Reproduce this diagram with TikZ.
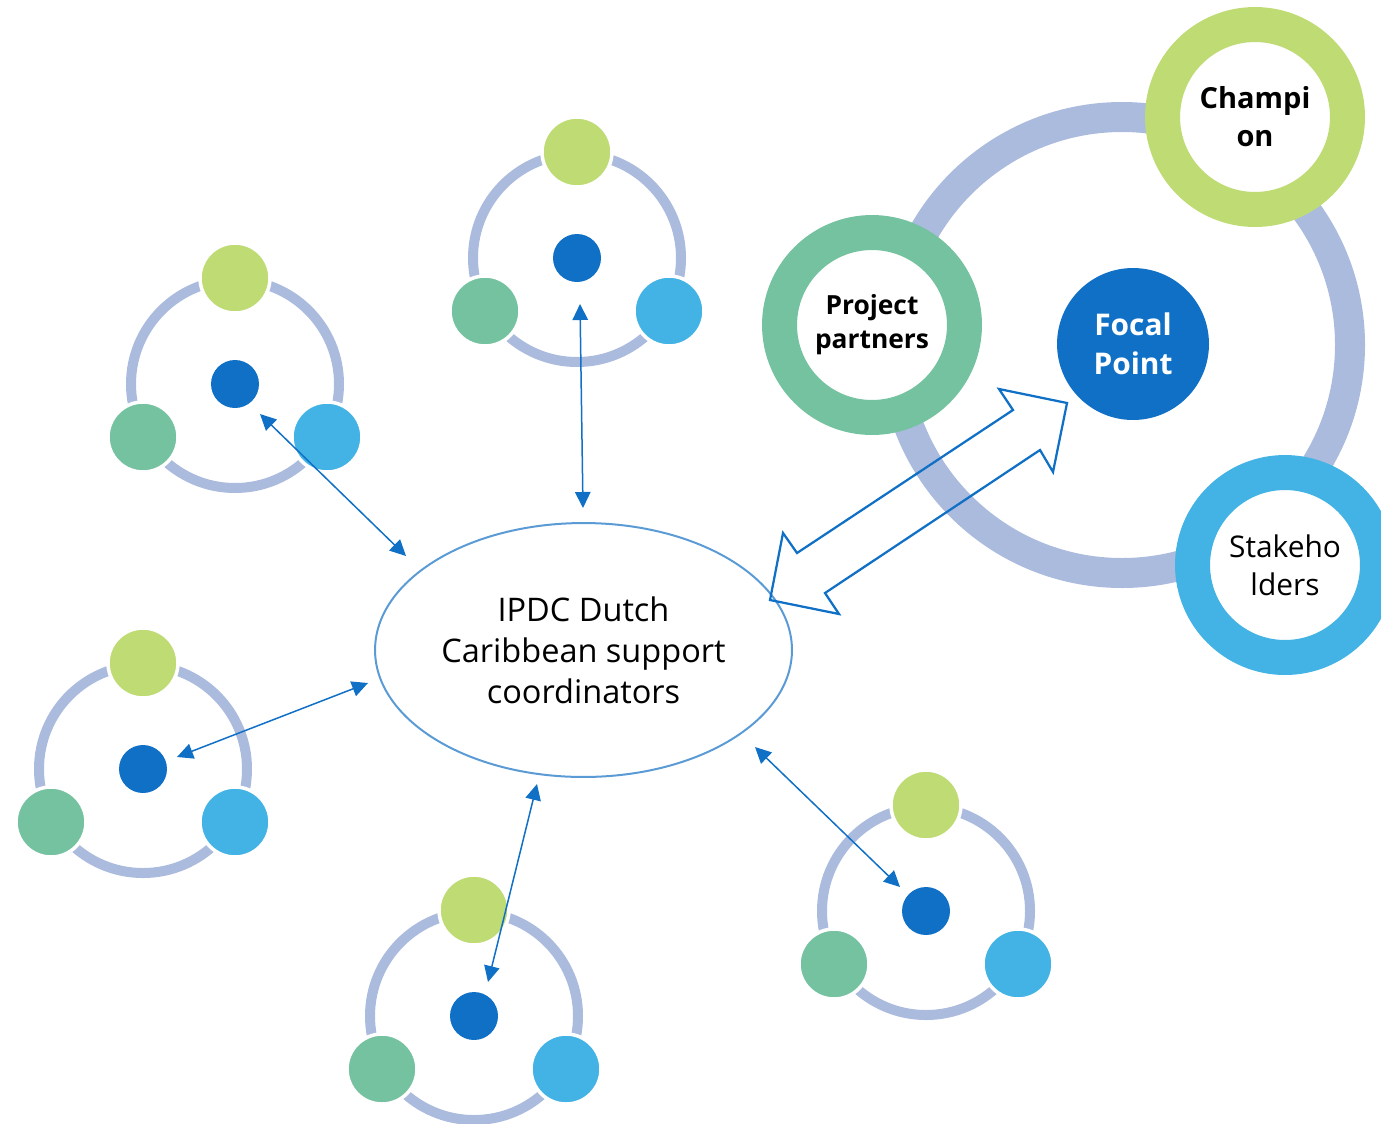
\documentclass[tikz,border=0pt]{standalone}
\usepackage{fontspec}
\setmainfont{Open Sans}
\usetikzlibrary{arrows.meta,shapes.geometric}
\definecolor{lgreen}{RGB}{191,219,116}
\definecolor{sgreen}{RGB}{117,194,160}
\definecolor{sblue}{RGB}{66,179,228}
\definecolor{dblue}{RGB}{16,112,198}
\definecolor{lav}{RGB}{171,187,222}
\definecolor{hubline}{RGB}{91,155,213}

\begin{document}
\begin{tikzpicture}[x=0.02cm,y=-0.02cm,
    ring/.style={draw=lav,line width=0.2cm},
    sat/.style={circle,draw=white,line width=0.07cm,minimum size=1.4cm,inner sep=0pt},
    dot/.style={circle,fill=dblue,minimum size=0.96cm,inner sep=0pt},
    bigsat/.style={circle,fill=white,line width=0.7cm,minimum size=3.7cm,inner sep=0pt,align=center},
    link/.style={dblue,line width=0.03cm,{Triangle[length=0.32cm,width=0.31cm]}-{Triangle[length=0.32cm,width=0.31cm]}}]
  \useasboundingbox (0,0) rectangle (1381,1123);
  \clip (0,0) rectangle (1381,1123);
  \draw[lav,line width=0.6cm] (1122,345) circle (228);
  \node[bigsat,draw=sgreen,font=\fontsize{15}{19.4}\selectfont\bfseries] (partners) at (872,325) {Project\\partners};
  \node[bigsat,draw=lgreen,font=\fontsize{16.5}{21.6}\selectfont\bfseries] (champion) at (1255,117) {Champi\\on};
  \node[bigsat,draw=sblue,font=\fontsize{17}{21.6}\selectfont] (stake) at (1285,565) {Stakeho\\lders};
  \node[circle,fill=dblue,minimum size=3.04cm,inner sep=0pt,align=center,text=white,
        font=\fontsize{17}{22.2}\selectfont\bfseries] (focal) at (1133,344) {Focal\\Point};
  \node[ellipse,draw=hubline,line width=0.04cm,minimum width=8.34cm,minimum height=5.08cm,inner sep=0pt,
        align=center,font=\fontsize{18.5}{23.3}\selectfont] (hub) at (583.5,650) {IPDC Dutch\\Caribbean support\\coordinators};
  \foreach \cx/\cy/\n in {235/384/1,577/258/2,143/769/3,474/1016/4,926/911/5}{
    \draw[ring] (\cx,\cy) circle (104);
    \node[sat,fill=lgreen] (top\n) at (\cx,{\cy-106}) {};
    \node[sat,fill=sgreen] (left\n) at ({\cx-92},{\cy+53}) {};
    \node[sat,fill=sblue] (right\n) at ({\cx+92},{\cy+53}) {};
    \node[dot] (dot\n) at (\cx,\cy) {};
  }
  \foreach \a/\b/\c/\d [count=\i] in {260/414/406/556,580/304/583/508,177/757/368/683,488/982/537/784,900/887/755/747}{
    \coordinate (s\i) at (\a,\b);
    \coordinate (t\i) at (\c,\d);
    \draw[link] (s\i) -- (t\i);
  }
  \draw[dblue,line width=0.045cm,line join=miter] (770,600) -- (783,533) -- (797,553) -- (1013,410) -- (999,389)
    -- (1067,403) -- (1053,472) -- (1040,450) -- (825,593) -- (839,614) -- cycle;
\end{tikzpicture}
\end{document}
